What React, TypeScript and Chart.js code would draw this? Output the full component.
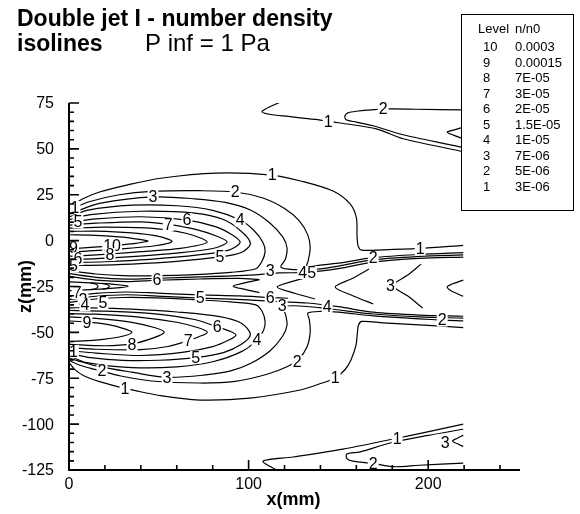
import React, { useEffect, useRef } from "react";
import { Chart, registerables } from "chart.js";

Chart.register(...registerables);

type P = [number, number];

// ---- axis ranges / ticks (mm) ----
const xRange: [number, number] = [0, 250];
const zRange: [number, number] = [-125, 75];
const xMajorTicks = [0, 100, 200];
const xTickLabels = ["0", "100", "200"];
const xMinorTicks = [20, 40, 60, 80, 120, 140, 160, 180, 220, 240];
const zMajorTicks = [75, 50, 25, 0, -25, -50, -75, -100, -125];
const zTickLabels = ["75", "50", "25", "0", "-25", "-50", "-75", "-100", "-125"];

// ---- legend ----
const legendLevels = ["10", "9", "8", "7", "6", "5", "4", "3", "2", "1"];
const legendValues = ["0.0003", "0.00015", "7E-05", "3E-05", "2E-05", "1.5E-05", "1E-05", "7E-06", "5E-06", "3E-06"];

// ---- contour lines (x mm, z mm) ----
// upper jet
const c1Up: P[] = [[0.5,17.5],[3,19.8],[8,23],[17,26.5],[31,30],[51,34],[82,36.8],[113,35.7],[129,32.5],[147,27],[156.5,20],[160,12.5],[160.4,2],[161,-3],[163,-5.2],[175,-5],[195,-4.2],[219.5,-2.6]];
const c2Up: P[] = [[0.5,16],[3,17.8],[11.7,21.3],[28,25],[46,26.8],[73,27.2],[92.5,26.5],[108,23.2],[120,17.5],[128,11],[133,3],[134.3,-4],[133.3,-10.5],[132.5,-14],[140,-13.3],[150,-12.3],[169.4,-9.3],[195,-7.5],[219.5,-6.5]];
const c3Up: P[] = [[0.5,14.5],[5,16.3],[17,20.3],[46.8,23.8],[70,22.8],[87,20.8],[101,16.7],[112,9.5],[119,2],[121.4,-4],[120.5,-10],[118,-14.5],[125,-15.8],[140,-15.4],[150,-13.9],[169.4,-10.4],[195,-8.6],[219.5,-7.8]];
const c4Up: P[] = [[0.5,13],[10,16.5],[35,19.3],[60,19],[80,16.5],[95.3,11.2],[103,5.5],[108,-1],[109.2,-6],[107.3,-11.5],[104,-15.3],[90,-17.3],[70,-18.5],[49,-19.1],[30,-19.1],[15,-18.2],[0.5,-16.5]];
const c5Up: P[] = [[0.5,11.5],[12,14.2],[40,16],[70,15],[86,11.5],[96,5],[101,-1.5],[96,-6.5],[84,-8.9],[60,-11.3],[35,-12.8],[12,-13.5],[0.5,-13.5]];
const c6Up: P[] = [[0.5,10],[15,11.8],[40,13],[66,11.2],[82,7.5],[91,3],[95.3,-1],[89,-5.2],[72,-7.8],[45,-10.2],[20,-11.5],[0.5,-12]];
const c7Up: P[] = [[0.5,8.5],[15,9.5],[40,10.2],[55,8.9],[70,6.3],[82,2.5],[88,-0.8],[80,-4.3],[60,-6.8],[35,-8.7],[15,-9.8],[0.5,-10.3]];
const c8Up: P[] = [[0.5,6.8],[20,7.4],[45,6.8],[65,4],[76.9,-0.8],[62,-4.2],[40,-6],[22.8,-7.3],[8,-8.2],[0.5,-8.5]];
const c9Up: P[] = [[0.5,5],[15,5.2],[35,4.2],[50,2.3],[57.4,-0.5],[48,-2.8],[28,-4.6],[10,-5.7],[0.5,-6.3]];
const c10Up: P[] = [[0.5,3.2],[12,3],[28,2],[38,0.8],[44,-0.3],[36,-1.6],[20,-3.1],[0.5,-4.5]];

// interaction sheet
const sheet5Up: P[] = [[0.5,-18],[15,-20],[32,-21],[49,-20.5],[73,-19.8],[100,-18.8],[117,-17.6],[132.6,-17.3],[150,-15.3],[169.4,-11.7],[195,-9.7],[219.5,-9]];
const sheet6Up: P[] = [[0.5,-19.5],[15,-21.5],[32,-22.3],[49,-21.6],[73,-20.9],[95,-20.6],[106,-21.2]];
const sheet5Lo: P[] = [[0.5,-32],[15,-30.3],[32,-29.5],[49,-30.2],[73,-31.3],[100,-32.3],[117,-33.3],[132.6,-34],[150,-36],[169.4,-39],[195,-40.6],[219.5,-41.2]];
const sheet6Lo: P[] = [[0.5,-30.5],[15,-28.8],[32,-28],[49,-28.6],[73,-29.6],[95,-30.1],[112,-31],[122,-31.4]];
const sheetTip: P[] = [[0.5,-22.5],[12,-23],[25,-23.8],[33,-24.8],[25,-25.9],[12,-26.7],[0.5,-27.2]];
const sheetArcA: P[] = [[12,-23],[14.8,-23.6],[16.2,-24.9],[14.8,-26.2],[12,-26.7]];
const sheetArcB: P[] = [[18.5,-23.3],[21.2,-23.9],[22.5,-24.9],[21.2,-26],[18.5,-26.5]];
const sheetV1: P[] = [[106,-21.3],[98,-23],[91.4,-24.8],[98,-26.6],[106,-28.3]];
const sheetV2: P[] = [[137,-18.8],[126,-21.8],[115.9,-25.3],[126,-28.8],[137,-31.8]];
const sheetV3: P[] = [[167,-15.5],[158,-20.5],[148.2,-25.3],[158,-30],[169.4,-34.5]];
const sheetV4: P[] = [[196,-12.8],[189,-18.5],[180.5,-24.5],[189,-30.5],[197,-36.8]];
const sheetV5: P[] = [[219.5,-21.5],[213,-23.8],[210.6,-25.3],[213,-27.5],[219.5,-30.3]];

// lower jet
const c1Lo: P[] = [[0.5,-67],[3,-70],[8,-73.5],[17,-76.8],[31,-80.4],[51,-84.5],[73,-86.9],[100.8,-85.8],[128.7,-81.4],[141,-77.6],[148.2,-74.9],[153.5,-70.5],[157,-65],[159.8,-57],[160.6,-50],[161.2,-46],[163,-44],[175,-44.8],[195,-45.9],[219.5,-47.4]];
const c2Lo: P[] = [[0.5,-65.5],[5,-67.5],[11.7,-69.5],[18.4,-71.2],[28,-73.6],[46,-76.5],[73,-77.6],[92.5,-76.7],[110.3,-72.8],[122,-68.5],[128,-64.5],[132.5,-58],[134.3,-50],[133.8,-43],[133,-39.5],[140,-38.6],[150,-39],[169.4,-41],[195,-42.6],[207.8,-43.3],[219.5,-43.7]];
const c3Lo: P[] = [[0.5,-64],[5,-65.5],[17,-68.7],[35,-71.7],[54.6,-74.5],[75,-73.3],[90,-71],[101,-67],[112,-60],[119,-52],[121.4,-46],[120.5,-40],[119,-36.3],[125,-35.5],[143.7,-37],[169.4,-40],[195,-41.6],[219.5,-42.2]];
const c4Lo: P[] = [[0.5,-33.6],[15,-31.8],[30,-31],[49,-31.2],[70,-32.2],[90,-33.4],[104,-35],[107.5,-38.5],[109.2,-44],[108.3,-49],[104.7,-54.2],[96,-60.5],[80,-66],[60,-68.8],[35,-69.2],[10,-66.5],[0.5,-63]];
const c5Lo: P[] = [[0.5,-36.6],[12,-36.6],[35,-37.3],[60,-38.9],[84,-41.4],[96,-45],[101,-51.2],[96,-56.5],[86,-61],[71.3,-63.6],[50,-65.2],[30,-65.3],[12,-63.8],[0.5,-61.5]];
const c6Lo: P[] = [[0.5,-38],[20,-38.4],[45,-39.6],[70,-43],[82.5,-47],[90,-49.5],[93,-51.5],[89,-54.2],[80,-57.8],[64,-60.8],[40,-62.6],[15,-61.3],[0.5,-60]];
const c7Lo: P[] = [[0.5,-39.8],[15,-40.1],[40,-41.8],[60,-44.5],[72,-47.5],[77,-50],[72,-52.5],[66.3,-54.5],[55,-57.7],[40,-59.4],[15,-59.2],[0.5,-58.3]];
const c8Lo: P[] = [[0.5,-41.6],[15,-42.4],[35,-44.5],[48,-47.5],[53,-50],[47,-53],[35.1,-56.3],[20,-57.3],[0.5,-56.5]];
const c9Lo: P[] = [[0.5,-43.8],[10,-44.3],[22,-45.8],[30,-47.8],[35,-50],[28,-52.5],[15,-54.2],[0.5,-55]];

// neighbouring jets (top right, bottom right)
const c1Top: P[] = [[118.7,76],[107.5,70.1],[124,67.4],[139.8,65.7],[151,64.1],[171.6,60.8],[186.1,55.5],[219.5,48.5]];
const c2Top: P[] = [[219.5,71.2],[193,71.6],[174.9,71.7],[160,70.5],[155,69.5],[153.6,67.8],[154.3,65.9],[160,64.6],[169.4,62.6],[186,57.7],[219.5,50.8]];
const c3Top: P[] = [[219.5,61.8],[214,60.2],[210.6,59.1],[214,57.5],[219.5,55.5]];
const c1Bot: P[] = [[117.5,-126],[108.1,-120.2],[124.8,-117.9],[152.6,-113.6],[180.5,-108.1],[199,-104.4],[219.5,-100]];
const c2Bot: P[] = [[219.5,-121.2],[195,-122.4],[180.5,-123.2],[169.4,-121.4],[158,-120.2],[154.8,-118.8],[154.6,-116.3],[162.1,-115.1],[178.8,-110.3],[199,-106.3],[219.5,-102.8]];
const c3Bot: P[] = [[219.5,-106],[216,-107.8],[213.5,-109.2],[216,-110.6],[219.5,-112.2]];

const contourLines: P[][] = [
  c1Up, c2Up, c3Up, c4Up, c5Up, c6Up, c7Up, c8Up, c9Up, c10Up,
  sheet5Up, sheet6Up, sheet5Lo, sheet6Lo, sheetTip, sheetArcA, sheetArcB,
  sheetV1, sheetV2, sheetV3, sheetV4, sheetV5,
  c1Lo, c2Lo, c3Lo, c4Lo, c5Lo, c6Lo, c7Lo, c8Lo, c9Lo,
  c1Top, c2Top, c3Top, c1Bot, c2Bot, c3Bot,
];

// contour labels: [text, x mm, z mm]
const contourLabels: [string, number, number][] = [
  ["1", 3.3, 18], ["5", 5, 10.3], ["1", 113.1, 35.8], ["2", 92.5, 26.6], ["3", 46.8, 23.9],
  ["7", 55.2, 8.8], ["6", 65.7, 11.4], ["4", 95.3, 11.2], ["5", 84.1, -8.9], ["10", 24, -2.6],
  ["9", 2.5, -3.8], ["8", 22.8, -7.6], ["6", 5, -9.8], ["5", 2.5, -13.8], ["6", 49, -21.2], ["3", 112, -16.2],
  ["45", 132.6, -17.4], ["2", 169.4, -9.5], ["1", 195.5, -4.5], ["3", 179, -24.4], ["7", 4.5, -28.3],
  ["2", 7.8, -32.2], ["4", 8.9, -35], ["5", 18.9, -33.8], ["9", 10, -44.4], ["8", 35.1, -56.8],
  ["7", 66.3, -54.3], ["6", 82.5, -47.1], ["5", 73, -31.3], ["5", 70.5, -63.5], ["4", 104.7, -54.2],
  ["3", 54.6, -74.4], ["2", 18.4, -71], ["1", 31.2, -80.6], ["2", 127, -66], ["1", 148.2, -74.9],
  ["6", 112, -31.2], ["3", 118.7, -35.3], ["4", 143.7, -36], ["2", 207.8, -43.3], ["1", 2.5, -60.5],
  ["1", 144.3, 65], ["2", 174.9, 71.7], ["1", 182.7, -107.8], ["2", 169.4, -121.3], ["3", 209.5, -110],
];

const FONT = "'Liberation Sans', Arial, Helvetica, sans-serif";

const overlayPlugin = {
  id: "tecplotOverlay",
  afterDatasetsDraw(chart: any) {
    const ctx = chart.ctx as CanvasRenderingContext2D;
    const xs = chart.scales.x;
    const ys = chart.scales.y;
    ctx.save();
    ctx.font = `16px ${FONT}`;
    ctx.textAlign = "center";
    ctx.textBaseline = "middle";
    for (const [t, x, z] of contourLabels) {
      const px = xs.getPixelForValue(x);
      const py = ys.getPixelForValue(z);
      const w = ctx.measureText(t).width;
      ctx.fillStyle = "#ffffff";
      ctx.fillRect(px - w / 2 - 1, py - 6.5, w + 2, 13);
      ctx.fillStyle = "#000000";
      ctx.fillText(t, px, py + 1);
    }
    ctx.restore();
  },
  afterDraw(chart: any) {
    const ctx = chart.ctx as CanvasRenderingContext2D;
    const xs = chart.scales.x;
    const ys = chart.scales.y;
    const ca = chart.chartArea;
    const x0 = xs.getPixelForValue(xRange[0]);
    const y0 = ys.getPixelForValue(zRange[0]);
    const yTop = ys.getPixelForValue(zRange[1]);
    const xEnd = xs.getPixelForValue(xRange[1]);
    ctx.save();
    ctx.strokeStyle = "#000";
    ctx.fillStyle = "#000";
    // axes lines
    ctx.lineWidth = 2;
    ctx.beginPath();
    ctx.moveTo(x0, yTop);
    ctx.lineTo(x0, y0 + 1);
    ctx.moveTo(x0 - 1, y0);
    ctx.lineTo(xEnd + 2, y0);
    ctx.stroke();
    // ticks (inward)
    ctx.lineWidth = 1.6;
    ctx.beginPath();
    for (const v of xMajorTicks) {
      const p = xs.getPixelForValue(v);
      ctx.moveTo(p, y0);
      ctx.lineTo(p, y0 - 10);
    }
    for (const v of xMinorTicks) {
      const p = xs.getPixelForValue(v);
      ctx.moveTo(p, y0);
      ctx.lineTo(p, y0 - 5);
    }
    for (const v of zMajorTicks) {
      const p = ys.getPixelForValue(v);
      ctx.moveTo(x0, p);
      ctx.lineTo(x0 + 10, p);
    }
    for (let v = zRange[0]; v <= zRange[1]; v += 5) {
      if (v % 25 === 0) continue;
      const p = ys.getPixelForValue(v);
      ctx.moveTo(x0, p);
      ctx.lineTo(x0 + 5, p);
    }
    ctx.stroke();
    // tick labels
    ctx.font = `16px ${FONT}`;
    ctx.textAlign = "center";
    ctx.textBaseline = "alphabetic";
    xMajorTicks.forEach((v, i) => {
      ctx.fillText(xTickLabels[i], xs.getPixelForValue(v), y0 + 19);
    });
    ctx.textAlign = "right";
    ctx.textBaseline = "middle";
    zMajorTicks.forEach((v, i) => {
      ctx.fillText(zTickLabels[i], x0 - 15, ys.getPixelForValue(v) + 1);
    });
    // axis titles
    ctx.font = `bold 18px ${FONT}`;
    ctx.textAlign = "center";
    ctx.textBaseline = "alphabetic";
    ctx.fillText("x(mm)", (ca.left + ca.right) / 2, 505);
    ctx.save();
    ctx.translate(26, (ca.top + ca.bottom) / 2);
    ctx.rotate(-Math.PI / 2);
    ctx.textBaseline = "middle";
    ctx.fillText("z(mm)", 0, 0);
    ctx.restore();
    // titles
    ctx.textAlign = "left";
    ctx.textBaseline = "alphabetic";
    ctx.font = `bold 23px ${FONT}`;
    ctx.fillText("Double jet I - number density", 17, 26);
    ctx.fillText("isolines", 17, 51);
    ctx.font = `24px ${FONT}`;
    ctx.fillText("P inf = 1 Pa", 145, 51);
    // legend box
    ctx.fillStyle = "#fff";
    ctx.fillRect(461, 14, 113, 197);
    ctx.lineWidth = 1;
    ctx.strokeStyle = "#000";
    ctx.strokeRect(461.5, 14.5, 112, 196);
    ctx.fillStyle = "#000";
    ctx.font = `13px ${FONT}`;
    ctx.fillText("Level", 478, 33);
    ctx.fillText("n/n0", 515, 33);
    legendLevels.forEach((lv, i) => {
      const by = 51 + i * 15.5;
      ctx.fillText(lv, 483, by);
      ctx.fillText(legendValues[i], 515, by);
    });
    ctx.restore();
  },
};

export default function App() {
  const ref = useRef<HTMLCanvasElement | null>(null);
  useEffect(() => {
    if (!ref.current) return;
    const chart = new Chart(ref.current, {
      type: "scatter",
      data: {
        datasets: contourLines.map((line) => ({
          data: line.map(([x, y]) => ({ x, y })),
          showLine: true,
          pointRadius: 0,
          borderColor: "#000",
          borderWidth: 1.2,
          tension: 0.3,
          fill: false,
        })),
      },
      options: {
        responsive: false,
        animation: false,
        events: [],
        layout: { padding: { left: 69, top: 103, right: 62, bottom: 44 } },
        scales: {
          x: { type: "linear", min: xRange[0], max: xRange[1], display: false },
          y: { type: "linear", min: zRange[0], max: zRange[1], display: false },
        },
        plugins: {
          legend: { display: false },
          tooltip: { enabled: false },
          title: { display: false },
        },
      },
      plugins: [overlayPlugin],
    } as any);
    return () => chart.destroy();
  }, []);
  return (
    <div style={{ position: "absolute", left: 0, top: 0, width: 580, height: 514, background: "#fff" }}>
      <canvas ref={ref} width={580} height={514} style={{ display: "block" }} />
    </div>
  );
}
